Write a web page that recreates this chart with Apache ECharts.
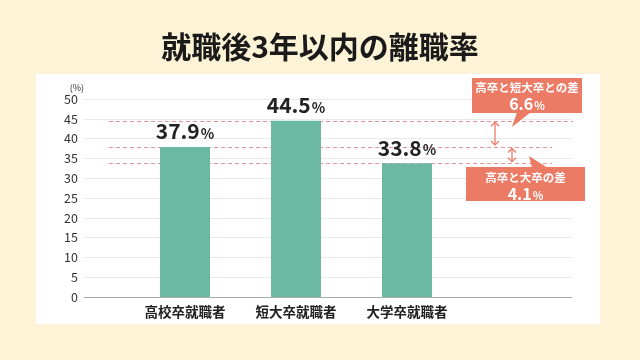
<!DOCTYPE html>
<html><head><meta charset="utf-8">
<script src="https://cdn.jsdelivr.net/npm/echarts@6/dist/echarts.min.js"></script>
<style>html,body{margin:0;padding:0;background:#fdf3d6;}#c{width:640px;height:360px;}</style>
</head><body><div id="c"></div>
<script>
const titleText = '就職後3年以内の離職率';
const categories = ['高校卒就職者', '短大卒就職者', '大学卒就職者'];
const rates = [37.9, 44.5, 33.8];
const yMin = 0, yMax = 50, yInterval = 5;
const yUnit = '(%)';
const diffTitles = ['高卒と短大卒との差', '高卒と大卒の差'];
const diffValues = ['6.6', '4.1'];

const FONT = '"Noto Sans CJK JP", "Noto Sans", sans-serif';
const BAR = '#6cb9a3';
const SALMON = '#ec7b66';

const chart = echarts.init(document.getElementById('c'), null, {renderer: 'canvas'});

const yCommon = {type: 'value', min: yMin, max: yMax, interval: yInterval};
chart.setOption({
  backgroundColor: '#fdf3d6',
  animation: false,
  title: {
    text: titleText, left: 'center', top: 27,
    textStyle: {fontFamily: FONT, fontSize: 30, fontWeight: 'bold', color: '#1a1a1a'}
  },
  grid: [
    {left: 84, right: 68, top: 99, bottom: 63},
    {left: 129.5, right: 177.5, top: 99, bottom: 63}
  ],
  xAxis: [
    {type: 'category', gridIndex: 0, data: [''], axisLine: {lineStyle: {color: '#aaaaaa', width: 1}},
      axisTick: {show: false}, axisLabel: {show: false}, splitLine: {show: false}},
    {type: 'category', gridIndex: 1, data: categories, axisLine: {show: false}, axisTick: {show: false},
      axisLabel: {margin: 8, fontFamily: FONT, fontSize: 13.5, fontWeight: 'bold', color: '#222'}}
  ],
  yAxis: [
    Object.assign({gridIndex: 0, name: yUnit, nameLocation: 'end', nameGap: 7,
      nameTextStyle: {fontFamily: FONT, fontSize: 9, color: '#333', align: 'right', padding: [0, 0, 0, 0]},
      axisLine: {show: false}, axisTick: {show: false},
      axisLabel: {margin: 6, fontFamily: FONT, fontSize: 12.5, color: '#333'},
      splitLine: {lineStyle: {color: '#e9e9e9', width: 1}}}, yCommon),
    Object.assign({gridIndex: 1, show: false, splitLine: {show: false}}, yCommon)
  ],
  series: [{
    type: 'bar', xAxisIndex: 1, yAxisIndex: 1, data: rates, barWidth: 50,
    itemStyle: {color: BAR},
    label: {
      show: true, position: 'top', distance: 5,
      formatter: p => '{a|' + p.value.toFixed(1) + '}{b|%}',
      rich: {
        a: {fontFamily: FONT, fontSize: 21, fontWeight: 'bold', color: '#222'},
        b: {fontFamily: FONT, fontSize: 14, fontWeight: 'bold', color: '#222', padding: [4, 0, 0, 1]}
      }
    },
    z: 5
  }]
});

function yPix(v) { return chart.convertToPixel({yAxisIndex: 1}, v); }

const yHigh = yPix(rates[1]);
const yMidV = yPix(rates[0]);
const yLow = yPix(rates[2]);

const dash = {stroke: '#e89496', lineWidth: 1, lineDash: [4, 3]};
function hline(y, x1, x2) {
  return {type: 'line', shape: {x1: x1, y1: Math.round(y) + 0.5, x2: x2, y2: Math.round(y) + 0.5}, style: dash, z: 3, silent: true};
}
function arrow(x, y1, y2) {
  const items = [];
  items.push({type: 'line', shape: {x1: x, y1: y1, x2: x, y2: y2}, style: {stroke: SALMON, lineWidth: 1.3}, z: 6});
  items.push({type: 'polyline', shape: {points: [[x - 4, y1 + 4], [x, y1], [x + 4, y1 + 4]]}, style: {stroke: SALMON, lineWidth: 1.3, fill: null}, z: 6});
  items.push({type: 'polyline', shape: {points: [[x - 4, y2 - 4], [x, y2], [x + 4, y2 - 4]]}, style: {stroke: SALMON, lineWidth: 1.3, fill: null}, z: 6});
  return items;
}
function callout(x1, y1, x2, y2, tri, t1, t2, ty1, ty2) {
  const cx = (x1 + x2) / 2;
  return [
    {type: 'rect', shape: {x: x1, y: y1, width: x2 - x1, height: y2 - y1}, style: {fill: SALMON}, z: 7},
    {type: 'polygon', shape: {points: tri}, style: {fill: SALMON}, z: 7},
    {type: 'text', x: cx, y: ty1, style: {text: t1, fill: '#fff', font: 'bold 11.5px ' + FONT, textAlign: 'center', textVerticalAlign: 'middle'}, z: 8},
    {type: 'text', x: cx, y: ty2, style: {
      text: '{a|' + t2 + '}{b|%}', textAlign: 'center', textVerticalAlign: 'middle',
      rich: {a: {fill: '#fff', fontFamily: FONT, fontSize: 16, fontWeight: 'bold'},
             b: {fill: '#fff', fontFamily: FONT, fontSize: 11, fontWeight: 'bold', padding: [3, 0, 0, 1]}}
    }, z: 8}
  ];
}

const graphics = [
  {type: 'rect', shape: {x: 36, y: 74, width: 564, height: 250}, style: {fill: '#ffffff'}, z: -10},
  hline(yHigh, 109, 573),
  hline(yMidV, 109, 552),
  hline(yLow, 109, 552)
].concat(
  arrow(495, yHigh + 1.5, yMidV - 2),
  arrow(512, yMidV + 1.5, yLow - 1.5),
  callout(472, 78, 582, 113, [[517, 112], [531, 112], [512, 127]], diffTitles[0], diffValues[0], 88, 104),
  callout(466, 167, 585, 201, [[532, 168], [548, 168], [529, 156]], diffTitles[1], diffValues[1], 178, 194)
);
chart.setOption({graphic: {elements: graphics}});
</script></body></html>
